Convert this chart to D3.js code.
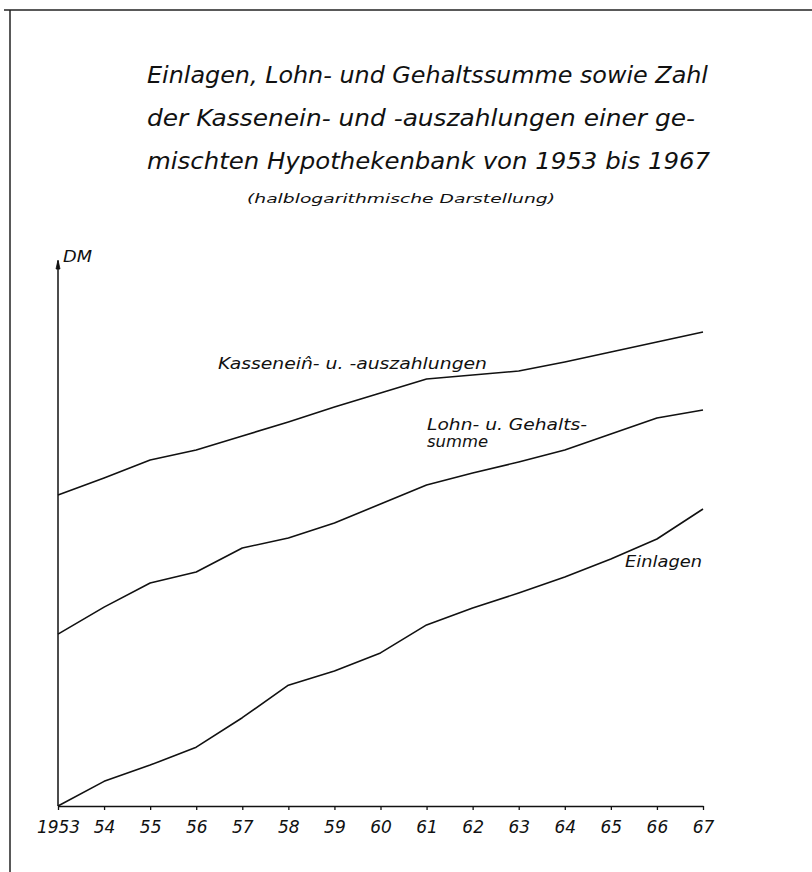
<!DOCTYPE html>
<html>
<head>
<meta charset="utf-8">
<script src="https://cdn.jsdelivr.net/npm/d3@7"></script>
<style>
  body { margin: 0; background: #fff; }
  svg { display: block; }
  text { font-family: "DejaVu Sans", sans-serif; font-style: italic; fill: #111; }
</style>
</head>
<body>
<svg width="812" height="872"></svg>
<script>
// years on the x axis
const years = d3.range(1953, 1968);
const yearLabels = ["1953","54","55","56","57","58","59","60","61","62","63","64","65","66","67"];

// values (relative units, Einlagen 1953 = 100)
const einlagen = [100, 123, 141, 164, 210, 276, 311, 362, 458, 528, 599, 685, 797, 943, 1213];
const lohn     = [424, 532, 651, 715, 874, 951, 1079, 1265, 1484, 1642, 1801, 1992, 2279, 2608, 2788];
const kassen   = [1365, 1574, 1832, 1992, 2240, 2521, 2858, 3216, 3617, 3741, 3869, 4173, 4539, 4935, 5370];

const titleLines = [
  "Einlagen, Lohn- und Gehaltssumme sowie Zahl",
  "der Kassenein- und -auszahlungen einer ge-",
  "mischten Hypothekenbank von 1953 bis 1967"
];

const svg = d3.select("svg");

// frame of the scanned page
svg.append("line").attr("x1", 4).attr("x2", 812).attr("y1", 10).attr("y2", 10)
   .attr("stroke", "#222").attr("stroke-width", 1.5);
svg.append("line").attr("x1", 10).attr("x2", 10).attr("y1", 10).attr("y2", 872)
   .attr("stroke", "#222").attr("stroke-width", 1.5);

// title
const titleWidths = [561, 548, 563];
titleLines.forEach((t, i) => {
  svg.append("text")
     .attr("x", 147)
     .attr("y", 83 + i * 43)
     .attr("font-size", "23px")
     .attr("textLength", titleWidths[i])
     .attr("lengthAdjust", "spacingAndGlyphs")
     .text(t);
});
svg.append("text")
   .attr("x", 247).attr("y", 203)
   .attr("font-size", "13px")
   .attr("textLength", 308)
   .attr("lengthAdjust", "spacingAndGlyphs")
   .text("(halblogarithmische Darstellung)");

// scales
const x = d3.scaleLinear().domain([1953, 1967]).range([58, 703]);
const y = d3.scaleLog().domain([100, 10000]).range([806, 258]);

// x axis
const xAxis = svg.append("g")
   .attr("transform", `translate(0, ${y(100)})`)
   .call(d3.axisBottom(x).tickValues(years).tickSize(4).tickSizeOuter(0)
         .tickFormat((d, i) => yearLabels[i]));
xAxis.select(".domain").attr("stroke", "#111").attr("stroke-width", 1.5);
xAxis.selectAll(".tick line").attr("stroke", "#111").attr("stroke-width", 1.3);
xAxis.selectAll(".tick text")
   .attr("y", 15)
   .attr("font-size", "17px")
   .attr("font-family", "DejaVu Sans, sans-serif")
   .attr("font-style", "italic")
   .attr("fill", "#111");

// y axis with arrow head
const x0 = x(1953);
svg.append("line")
   .attr("x1", x0).attr("x2", x0)
   .attr("y1", y(100)).attr("y2", 261)
   .attr("stroke", "#111").attr("stroke-width", 1.5);
svg.append("path")
   .attr("d", `M${x0 - 2},${269} L${x0},${260} L${x0 + 2},${269} Z`)
   .attr("fill", "#111").attr("stroke", "#111").attr("stroke-width", 0.8);
svg.append("text").attr("x", 63).attr("y", 262)
   .attr("font-size", "16px")
   .attr("textLength", 29).attr("lengthAdjust", "spacingAndGlyphs")
   .text("DM");

// lines
const line = d3.line().x((d, i) => x(years[i])).y(d => y(d));
[einlagen, lohn, kassen].forEach(series => {
  svg.append("path")
     .datum(series)
     .attr("d", line)
     .attr("fill", "none")
     .attr("stroke", "#111")
     .attr("stroke-width", 1.6)
     .attr("stroke-linejoin", "round");
});

// line labels
const lab = (tx, lx, ly, w) => svg.append("text")
   .attr("x", lx).attr("y", ly).attr("font-size", "15px")
   .attr("textLength", w).attr("lengthAdjust", "spacingAndGlyphs").text(tx);
lab("Kassenein\u0302- u. -auszahlungen", 218, 369, 269);
lab("Lohn- u. Gehalts-", 427, 430, 160);
lab("summe", 427, 447, 61);
lab("Einlagen", 625, 567, 77);
</script>
</body>
</html>
